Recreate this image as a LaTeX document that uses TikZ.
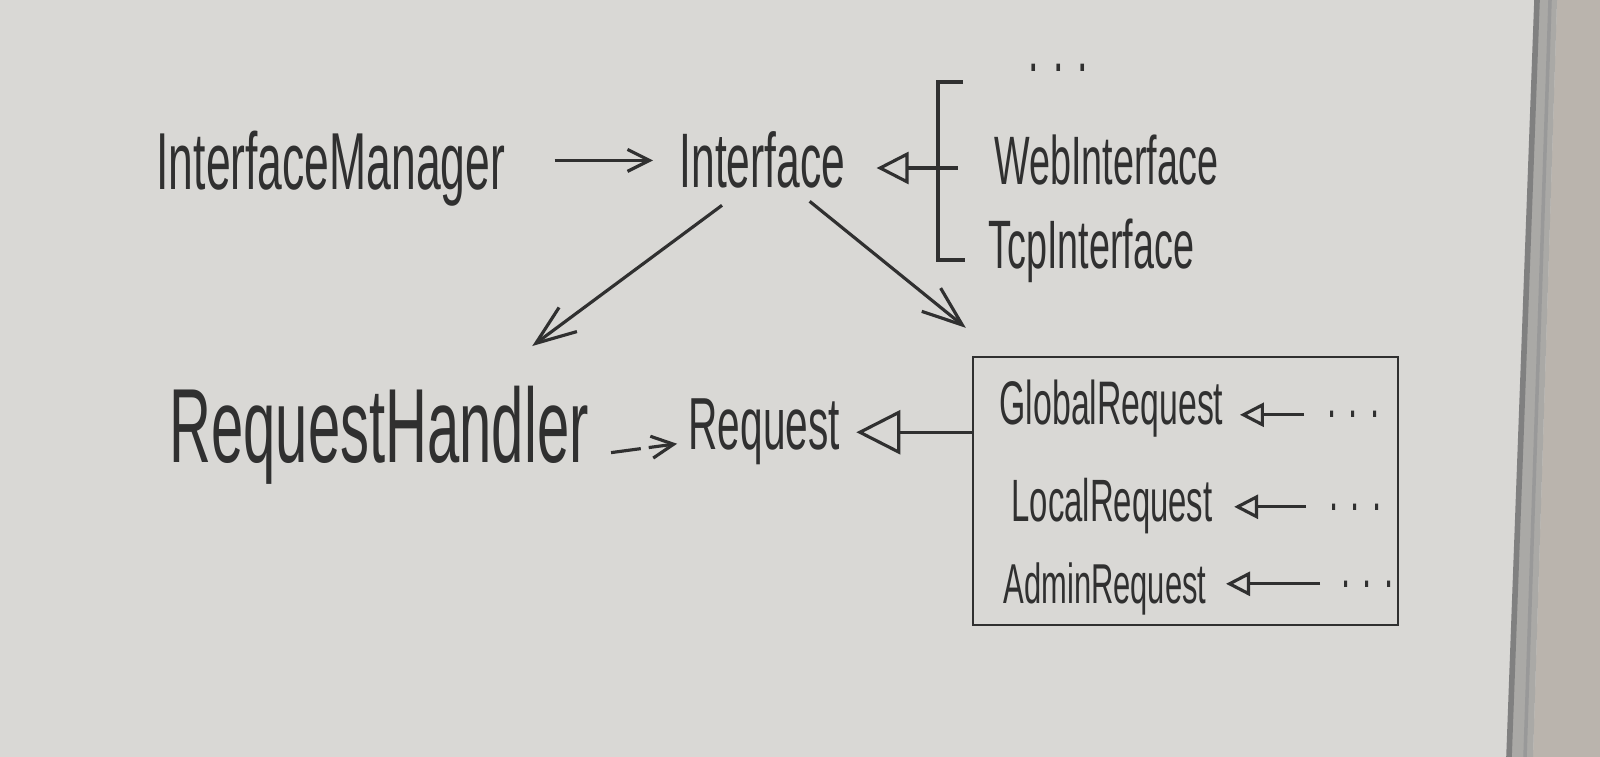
\documentclass[tikz,border=0pt]{standalone}
\usepackage{fontspec}
\usepackage{tikz}
\usetikzlibrary{arrows.meta,positioning,calc}
\newfontfamily\handfont[FakeStretch=0.55]{Liberation Sans}
\definecolor{board}{RGB}{217,216,213}
\definecolor{wall}{RGB}{186,180,173}
\definecolor{rim}{RGB}{170,169,166}
\definecolor{marker}{RGB}{48,48,48}

\begin{document}
\begin{tikzpicture}[color=marker, line width=0.9pt,
        word/.style={inner sep=0pt, anchor=base west, font=\handfont\fontsize{#1}{#1}\selectfont},
        uses/.style={-{Straight Barb[length=2.2mm,width=2.2mm]}},
        points/.style={-{Straight Barb[length=4mm,width=3mm]}},
        inherit/.style={-{Triangle[open,length=#1,width=#1]}}]
        \useasboundingbox (0,0) rectangle (16,-7.57);
        % whiteboard and its rim
        \fill[board] (0,0) rectangle (16,-7.57);
        \fill[wall] (15.57,0) -- (16,0) -- (16,-7.57) -- (15.33,-7.57) -- cycle;
        \fill[rim] (15.35,0) -- (15.57,0) -- (15.33,-7.57) -- (15.07,-7.57) -- cycle;
        \draw[gray, line width=1.6pt] (15.37,0) -- (15.09,-7.57);
        \draw[gray!80, line width=1pt] (15.50,0) -- (15.25,-7.57);

        % top row
        \node[word=23] (InterfaceManager) at (1.55,-1.90) {InterfaceManager};
        \node[word=22] (Interface) at (6.78,-1.88) {Interface};
        \node[word=19.5] (MoreIf) at (10.27,-0.72) {. . .};
        \node[word=19.5] (WebIf) at (9.93,-1.85) {WebInterface};
        \node[word=19.5] (TcpIf) at (9.87,-2.69) {TcpInterface};
        \coordinate (Fork) at (9.38,-1.68);
        \coordinate (ForkTop) at (9.63,-0.82);
        \draw[uses, shorten <=4.8mm, shorten >=2.5mm] (InterfaceManager.east |- Interface.west) -- (Interface.west);
        \draw[inherit=3.2mm, shorten >=3mm] (Fork) -- (Fork -| Interface.east);
        \draw[shorten >=3.5mm] (Fork) -- (Fork -| WebIf.west);
        \draw (ForkTop) -| (Fork) |- ([xshift=-2.2mm,yshift=0.9mm]TcpIf.base west);

        % bottom row
        \node[word=30] (RequestHandler) at (1.68,-4.63) {RequestHandler};
        \node[word=21] (Request) at (6.87,-4.50) {Request};
        \node[draw, line width=0.7pt, minimum width=4.25cm, minimum height=2.68cm] (Requests) at (11.855,-4.91) {};
        \node[word=17.5] (GlobalReq) at (9.98,-4.25) {GlobalRequest};
        \node[word=17] (LocalReq) at (10.10,-5.22) {LocalRequest};
        \node[word=16] (AdminReq) at (10.02,-6.03) {AdminRequest};
        \node[word=17] (MoreGlobal) at (13.26,-4.18) {. . .};
        \node[word=17] (MoreLocal) at (13.28,-5.10) {. . .};
        \node[word=17] (MoreAdmin) at (13.40,-5.87) {. . .};
        \draw[uses, dash pattern=on 3mm off 0.8mm, shorten <=2.1mm, shorten >=1mm] (RequestHandler.mid east) -- (Request.mid west);
        \draw[inherit=4.4mm, shorten >=1.5mm] (Requests.west |- Request.east) -- (Request.east);
        \draw[inherit=2.4mm, shorten <=2.2mm, shorten >=1.5mm] (MoreGlobal.west) -- (MoreGlobal.west -| GlobalReq.east);
        \draw[inherit=2.4mm, shorten <=2.2mm, shorten >=2mm] (MoreLocal.west) -- (MoreLocal.west -| LocalReq.east);
        \draw[inherit=2.4mm, shorten <=2mm, shorten >=1.8mm] (MoreAdmin.west) -- (MoreAdmin.west -| AdminReq.east);

        % interface to both sides
        \draw[points] ([xshift=4.4mm,yshift=-1.5mm]Interface.south west) -- ([xshift=-5.8mm,yshift=3.9mm]RequestHandler.north east);
        \draw[points] ([xshift=-3.7mm,yshift=-1.1mm]Interface.south east) -- ([xshift=-0.6mm,yshift=2.8mm]Requests.north west);
      \end{tikzpicture}
\end{document}
